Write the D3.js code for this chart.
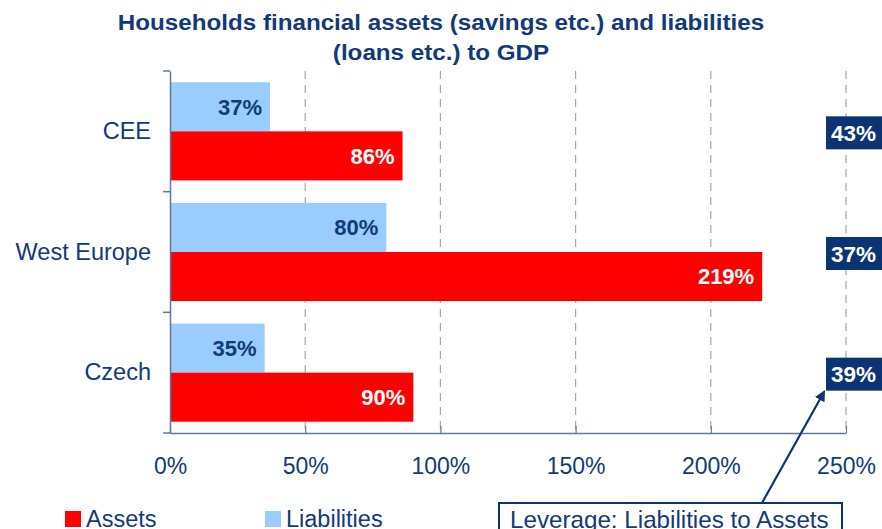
<!DOCTYPE html>
<html>
<head>
<meta charset="utf-8">
<script src="https://cdn.jsdelivr.net/npm/d3@7"></script>
<style>
  html, body { margin: 0; padding: 0; background: #fff; }
  svg { display: block; font-family: "Liberation Sans", Arial, sans-serif; }
</style>
</head>
<body>
<svg id="chart" width="882" height="529"></svg>
<script>
// Household balance sheet data, % of GDP
const categories = ["CEE", "West Europe", "Czech"];
const assets = [86, 219, 90];
const liabilities = [37, 80, 35];
const leverage = [43, 37, 39];
const xTicks = [0, 50, 100, 150, 200, 250];
const seriesNames = ["Liabilities", "Assets"];

const navy = "#123a78";
const boxNavy = "#0c3474";
const axisColor = "#5f77a3";
const red = "#ff0000";
const blue = "#99ccff";

const svg = d3.select("#chart");
const margin = { left: 170, right: 36, top: 71, bottom: 96 };
const W = 882, H = 529;

const x = d3.scaleLinear().domain([0, 250]).range([margin.left, W - margin.right]);
const y = d3.scaleBand().domain(categories).range([margin.top, H - margin.bottom]);
const sub = d3.scaleBand().domain(seriesNames).range([0, y.bandwidth()]).paddingOuter(0.23);

// Title
const title = svg.append("text")
  .attr("text-anchor", "middle")
  .attr("fill", navy).attr("font-weight", "bold").attr("font-size", 20)
  .attr("transform", "translate(441,0) scale(1.21,1.1)");
title.append("tspan").attr("x", 0).attr("y", 27.5).text("Households financial assets (savings etc.) and liabilities");
title.append("tspan").attr("x", 0).attr("y", 55).text("(loans etc.) to GDP");

// Dashed vertical gridlines
svg.append("g").selectAll("line")
  .data(xTicks.filter(d => d > 0))
  .join("line")
  .attr("x1", d => x(d)).attr("x2", d => x(d))
  .attr("y1", margin.top).attr("y2", H - margin.bottom)
  .attr("stroke", "#a6a6a6").attr("stroke-width", 1.2)
  .attr("stroke-dasharray", "8,6");

// Bars
const rows = categories.map((c, i) => ({ c, Liabilities: liabilities[i], Assets: assets[i], lev: leverage[i] }));
const groups = svg.append("g").selectAll("g")
  .data(rows).join("g")
  .attr("transform", d => `translate(0,${y(d.c)})`);

groups.append("rect")
  .attr("x", x(0)).attr("y", sub("Liabilities"))
  .attr("width", d => x(d.Liabilities) - x(0)).attr("height", sub.bandwidth())
  .attr("fill", blue);
groups.append("rect")
  .attr("x", x(0)).attr("y", sub("Assets"))
  .attr("width", d => x(d.Assets) - x(0)).attr("height", sub.bandwidth())
  .attr("fill", red);

groups.append("text")
  .attr("x", d => x(d.Liabilities) - 8).attr("y", sub("Liabilities") + sub.bandwidth() / 2)
  .attr("dy", "0.36em").attr("text-anchor", "end")
  .attr("fill", navy).attr("font-weight", "bold").attr("font-size", 22)
  .text(d => d.Liabilities + "%");
groups.append("text")
  .attr("x", d => x(d.Assets) - 8).attr("y", sub("Assets") + sub.bandwidth() / 2)
  .attr("dy", "0.36em").attr("text-anchor", "end")
  .attr("fill", "#fff").attr("font-weight", "bold").attr("font-size", 22)
  .text(d => d.Assets + "%");

// Leverage boxes at the right edge
const lev = groups.append("g").attr("transform", `translate(${x(250) - 20},${y.bandwidth() / 2 - 15})`);
lev.append("rect").attr("width", 60).attr("height", 33).attr("fill", boxNavy);
lev.append("text")
  .attr("x", 27.5).attr("y", 16.5).attr("dy", "0.36em").attr("text-anchor", "middle")
  .attr("fill", "#fff").attr("font-weight", "bold").attr("font-size", 22.5)
  .text(d => d.lev + "%");

// X axis
const xAxis = svg.append("g").attr("transform", `translate(0,${H - margin.bottom})`)
  .call(d3.axisBottom(x).tickValues(xTicks).tickFormat(d => d + "%").tickSize(0).tickPadding(25));
xAxis.select(".domain").attr("stroke", axisColor).attr("stroke-width", 1.5);
xAxis.selectAll("text").attr("fill", navy).attr("font-size", 23).attr("font-family", "Liberation Sans, Arial, sans-serif");
xAxis.selectAll(".tick").append("line").attr("y1", -7).attr("y2", 0).attr("stroke", axisColor).attr("stroke-width", 1.2);

// Y axis
const yAxis = svg.append("g").attr("transform", `translate(${x(0)},0)`)
  .call(d3.axisLeft(y).tickSize(0).tickPadding(19));
yAxis.select(".domain").attr("stroke", axisColor).attr("stroke-width", 1.5);
yAxis.selectAll("text").attr("fill", navy).attr("font-size", 23.5).attr("font-family", "Liberation Sans, Arial, sans-serif");
const bounds = [...categories.map(c => y(c)), y.range()[1]];
yAxis.append("g").selectAll("line").data(bounds).join("line")
  .attr("x1", -7).attr("x2", 0).attr("y1", d => d).attr("y2", d => d)
  .attr("stroke", axisColor).attr("stroke-width", 1.5);

// Legend
const legend = svg.append("g").attr("font-size", 23.5).attr("fill", navy);
[["Assets", red, 65], ["Liabilities", blue, 265]].forEach(([name, col, lx]) => {
  legend.append("rect").attr("x", lx).attr("y", 511).attr("width", 16).attr("height", 16).attr("fill", col);
  legend.append("text").attr("x", lx + 21).attr("y", 527).attr("fill", navy).text(name);
});

// Leverage annotation box with arrow
svg.append("defs").append("marker")
  .attr("id", "arrow").attr("viewBox", "0 0 10 10").attr("refX", 8).attr("refY", 5)
  .attr("markerWidth", 5).attr("markerHeight", 5).attr("orient", "auto")
  .append("path").attr("d", "M0,0L10,5L0,10z").attr("fill", boxNavy);
svg.append("line")
  .attr("x1", 762).attr("y1", 503).attr("x2", 824).attr("y2", 392)
  .attr("stroke", boxNavy).attr("stroke-width", 2.2).attr("marker-end", "url(#arrow)");
svg.append("rect").attr("x", 499).attr("y", 503).attr("width", 343).attr("height", 40)
  .attr("fill", "#fff").attr("stroke", boxNavy).attr("stroke-width", 2);
svg.append("text").attr("x", 510).attr("y", 528).attr("font-size", 24.2).attr("fill", navy)
  .text("Leverage: Liabilities to Assets");
</script>
</body>
</html>
